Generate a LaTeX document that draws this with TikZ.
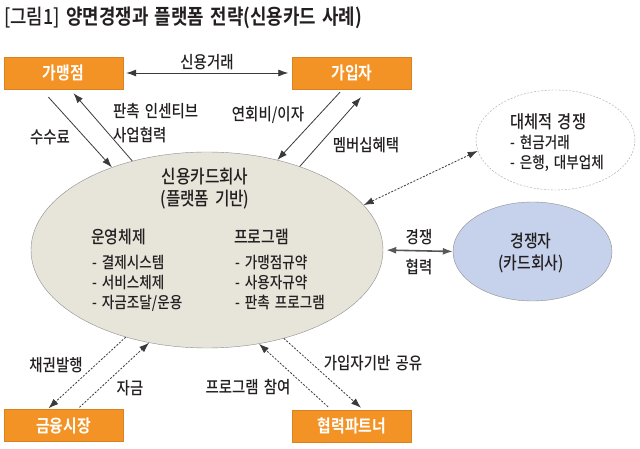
\documentclass[tikz,border=0pt]{standalone}
\usepackage{fontspec}
\setmainfont{Noto Sans CJK KR}[UprightFont=* Medium,BoldFont=* Bold,FakeStretch=0.85,WordSpace=1.6]
\usetikzlibrary{arrows.meta,calc,shapes.geometric}
\definecolor{brand}{HTML}{F39325}
\definecolor{brandedge}{HTML}{D9801F}
\definecolor{beige}{HTML}{E7E4DA}
\definecolor{rim}{HTML}{8E8E8E}
\definecolor{sky}{HTML}{C6D2EB}
\definecolor{ink}{HTML}{231F20}
\definecolor{wire}{HTML}{3A3A3A}
\tikzset{party/.style={draw=brandedge,fill=brand,minimum width=119pt,minimum height=32pt,inner sep=0pt,text=white,font=\fontsize{17.5}{19}\selectfont\bfseries}, lbl/.style={text=ink,inner sep=0pt,font=\fontsize{17}{19}\selectfont}, head/.style={lbl,font=\fontsize{17.5}{22}\selectfont,align=center}, item/.style={lbl,font=\fontsize{16}{20}\selectfont,align=left}, flow/.style={-{Latex[length=10pt,width=7pt]},draw=wire,line width=0.8pt}, both/.style={flow,{Latex[length=10pt,width=7pt]}-{Latex[length=10pt,width=7pt]}}, dflow/.style={flow,dash pattern=on 2pt off 1.5pt}, dboth/.style={both,dash pattern=on 2pt off 1.5pt}}

\begin{document}
\begin{tikzpicture}[x=1pt,y=-1pt]
\useasboundingbox[fill=white] (0,0) rectangle (640,449);
\node[lbl,anchor=west,font=\fontsize{21}{24}\selectfont] (ttl) at (4,18) {[그림1] \textbf{양면경쟁과 플랫폼 전략(신용카드 사례)}};
% parties
\node[party] (mer) at (63.5,73) {가맹점};
\node[party] (sub) at (352,73) {가입자};
\node[party] (fin) at (63.5,425.5) {금융시장};
\node[party] (ptn) at (352,426) {협력파트너};
% platform and rivals
\node[ellipse,draw=rim,fill=beige,minimum width=352pt,minimum height=196pt,inner sep=0pt] (hub) at (207,250) {};
\node[ellipse,draw=rim,fill=sky,minimum width=159pt,minimum height=99pt,inner sep=0pt] (rival) at (532.5,251.5) {};
\node[ellipse,draw=rim!80,dash pattern=on 2pt off 1.5pt,fill=white,minimum width=159pt,minimum height=100pt,inner sep=0pt] (alt) at (555.5,140) {};
\node[head,font=\fontsize{18.5}{22}\selectfont] (hubt) at (205,189) {신용카드회사\\(플랫폼 기반)};
\node[head,anchor=west] (ops) at (91,237) {운영체제};
\node[item,anchor=west] (opsi) at (92,283) {- 결제시스템\\- 서비스체제\\- 자금조달/운용};
\node[head,anchor=west] (prg) at (234,237) {프로그램};
\node[item,anchor=west] (prgi) at (235,283) {- 가맹점규약\\- 사용자규약\\- 판촉 프로그램};
\node[head] (rivalt) at (531,252.5) {경쟁자\\(카드회사)};
\node[head,anchor=west,font=\fontsize{18}{22}\selectfont] (altt) at (510,122) {대체적 경쟁};
\node[item,anchor=west] (alti) at (510,153) {- 현금거래\\- 은행, 대부업체};
% flows
\draw[both,shorten <=3pt,shorten >=4pt] (mer) -- (sub);
\node[lbl] (l1) at (207,62) {신용거래};
\draw[flow] ($(mer.south)+(-15,8)$) -- (hub.139);
\draw[flow] (hub.130) -- ($(mer.south)+(10,4)$);
\node[lbl] (l2) at (50,137) {수수료};
\node[lbl,anchor=west,align=left,font=\fontsize{17}{24}\selectfont] (l3) at (113,123) {판촉 인센티브\\사업협력};
\draw[flow] ($(sub.south)+(-12,3)$) -- (hub.52);
\draw[flow] (hub.42) -- ($(sub.south)+(9,8)$);
\node[lbl] (l4) at (268,115) {연회비/이자};
\node[lbl] (l5) at (366,145) {멤버십혜택};
\draw[dboth] (hub.16) -- (alt.188);
\draw[both,line width=1.6pt,draw=wire!85,shorten <=3pt] (hub.east) -- (rival.west);
\node[lbl] (l6) at (419,237) {경쟁};
\node[lbl] (l7) at (419,267) {협력};
\draw[dflow] (hub.227) -- ($(fin.north)+(-15,-1)$);
\draw[dflow] ($(fin.north)+(16,-2)$) -- (hub.238);
\node[lbl] (l8) at (56,365) {채권발행};
\node[lbl] (l9) at (130,388) {자금};
\draw[dflow] ($(ptn.north)+(-24,-3)$) -- (hub.299);
\draw[dflow] (hub.311) -- ($(ptn.north)+(9,-2)$);
\node[lbl] (l10) at (248,387) {프로그램 참여};
\node[lbl] (l11) at (373,363) {가입자기반 공유};
\end{tikzpicture}
\end{document}
